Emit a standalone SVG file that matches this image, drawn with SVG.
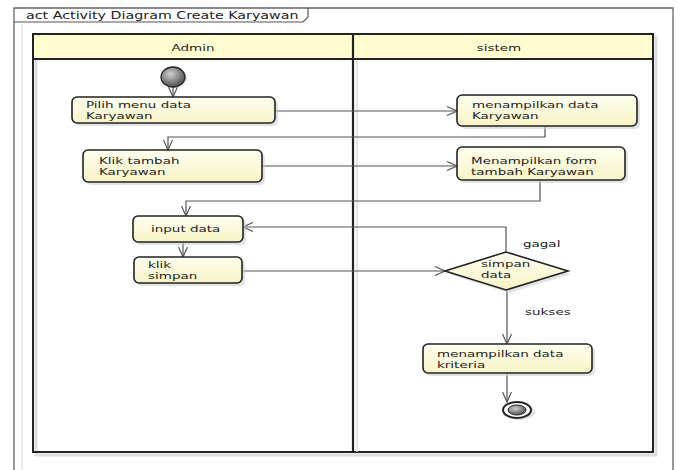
<svg xmlns="http://www.w3.org/2000/svg" width="678" height="470" viewBox="0 0 678 470">
<style>
.t{font-family:"DejaVu Sans",Verdana,sans-serif;font-size:9.5px;fill:#222}
.tt{font-family:"DejaVu Sans",Verdana,sans-serif;font-size:10.5px;fill:#222}
.box{fill:url(#yel);stroke:#222;stroke-width:1.6}
.shadow{fill:#cfcfcf;opacity:0.6}
.lane{fill:none;stroke:#222;stroke-width:2}
.hdr{fill:#fffdd0;stroke:#222;stroke-width:2}
.c{fill:none;stroke:#555;stroke-width:1.2;marker-end:url(#arr)}
</style>
<defs>
<linearGradient id="yel" x1="0" y1="0" x2="0" y2="1">
<stop offset="0" stop-color="#fffff0"/><stop offset="1" stop-color="#f7f3c6"/>
</linearGradient>
<radialGradient id="gry" cx="0.4" cy="0.35" r="0.7">
<stop offset="0" stop-color="#cfcfcf"/><stop offset="1" stop-color="#4a4a4a"/>
</radialGradient>
<marker id="arr" markerWidth="12" markerHeight="10" refX="11" refY="5" orient="auto" markerUnits="userSpaceOnUse">
<path d="M1,0.5 L11,5 L1,9.5" fill="none" stroke="#555" stroke-width="1.2"/>
</marker>
</defs>
<rect width="678" height="470" fill="#ffffff"/>
<g id="frame">
<path d="M14,475 V8 H673 V475" fill="none" stroke="#666" stroke-width="1.3"/>
<path d="M22,475 V24" fill="none" stroke="#ddd" stroke-width="1"/>
<path d="M14,22 H303 L308,17 V8" fill="none" stroke="#555" stroke-width="1.2"/>
<text class="tt" transform="translate(26,19) scale(1.36,1)">act Activity  Diagram  Create  Karyawan</text>
</g>
<g id="swimlanes">
<rect x="36" y="37" width="620" height="418" fill="none" stroke="#ddd" stroke-width="3"/>
<rect x="33" y="34" width="620" height="25" class="hdr"/>
<rect x="33" y="34" width="620" height="418" class="lane"/>
<line x1="353" y1="34" x2="353" y2="452" stroke="#222" stroke-width="2.2"/>
<line x1="357" y1="60" x2="357" y2="452" stroke="#ddd" stroke-width="1.5"/>
<text class="t" text-anchor="middle" transform="translate(193,51) scale(1.42,1)">Admin</text>
<text class="t" text-anchor="middle" transform="translate(499,51) scale(1.42,1)">sistem</text>
</g>
<g id="connectors">
<path class="c" d="M173,87 V97"/>
<path class="c" d="M275,111 H457"/>
<path class="c" d="M545,126 V137 H168 V150"/>
<path class="c" d="M262,166 H457"/>
<path class="c" d="M540,180 V201 H186 V216"/>
<path class="c" d="M183,242 V257"/>
<path class="c" d="M242,271 H445"/>
<path class="c" d="M506,252 V227 H243"/>
<path class="c" d="M507,290 V344"/>
<path class="c" d="M507,373 V402"/>
<text class="t" transform="translate(523,247) scale(1.42,1)">gagal</text>
<text class="t" transform="translate(525,315) scale(1.42,1)">sukses</text>
</g>
<g id="start">
<ellipse cx="175" cy="79" rx="12" ry="9" class="shadow"/>
<ellipse cx="173" cy="77" rx="12" ry="10" fill="url(#gry)" stroke="#222" stroke-width="1.3"/>
</g>
<g id="pilih">
<rect x="75" y="100" width="203" height="26" rx="5" class="shadow"/>
<rect x="72" y="97" width="203" height="26" rx="5" class="box"/>
<text class="t" transform="translate(86,108) scale(1.42,1)">Pilih menu data<tspan x="0" dy="11">Karyawan</tspan></text>
</g>
<g id="klik-tambah">
<rect x="86" y="153" width="179" height="32" rx="5" class="shadow"/>
<rect x="83" y="150" width="179" height="32" rx="5" class="box"/>
<text class="t" transform="translate(99,164) scale(1.42,1)">Klik tambah<tspan x="0" dy="11">Karyawan</tspan></text>
</g>
<g id="input-data">
<rect x="136" y="219" width="110" height="26" rx="5" class="shadow"/>
<rect x="133" y="216" width="110" height="26" rx="5" class="box"/>
<text class="t" transform="translate(151,232) scale(1.42,1)">input data</text>
</g>
<g id="klik-simpan">
<rect x="137" y="260" width="108" height="26" rx="5" class="shadow"/>
<rect x="134" y="257" width="108" height="26" rx="5" class="box"/>
<text class="t" transform="translate(148,268) scale(1.42,1)">klik<tspan x="0" dy="11">simpan</tspan></text>
</g>
<g id="tampil-data">
<rect x="460" y="98" width="180" height="31" rx="5" class="shadow"/>
<rect x="457" y="95" width="180" height="31" rx="5" class="box"/>
<text class="t" transform="translate(472,108) scale(1.42,1)">menampilkan data<tspan x="0" dy="11">Karyawan</tspan></text>
</g>
<g id="tampil-form">
<rect x="460" y="150" width="168" height="33" rx="5" class="shadow"/>
<rect x="457" y="147" width="168" height="33" rx="5" class="box"/>
<text class="t" transform="translate(471,164) scale(1.42,1)">Menampilkan form<tspan x="0" dy="11">tambah Karyawan</tspan></text>
</g>
<g id="simpan-data">
<polygon points="448,274 509,255 571,274 509,293" class="shadow"/>
<polygon points="445,271 506,252 568,271 506,290" fill="url(#yel)" stroke="#222" stroke-width="1.6"/>
<text class="t" transform="translate(481,267) scale(1.42,1)">simpan<tspan x="0" dy="11">data</tspan></text>
</g>
<g id="tampil-kriteria">
<rect x="426" y="347" width="169" height="29" rx="5" class="shadow"/>
<rect x="423" y="344" width="169" height="29" rx="5" class="box"/>
<text class="t" transform="translate(437,357) scale(1.42,1)">menampilkan data<tspan x="0" dy="11">kriteria</tspan></text>
</g>
<g id="end">
<ellipse cx="520" cy="412" rx="15" ry="8" class="shadow"/>
<ellipse cx="517" cy="410" rx="14" ry="8" fill="#fff" stroke="#222" stroke-width="2"/>
<ellipse cx="517" cy="410" rx="9" ry="5" fill="url(#gry)" stroke="#222" stroke-width="1"/>
</g>
</svg>
